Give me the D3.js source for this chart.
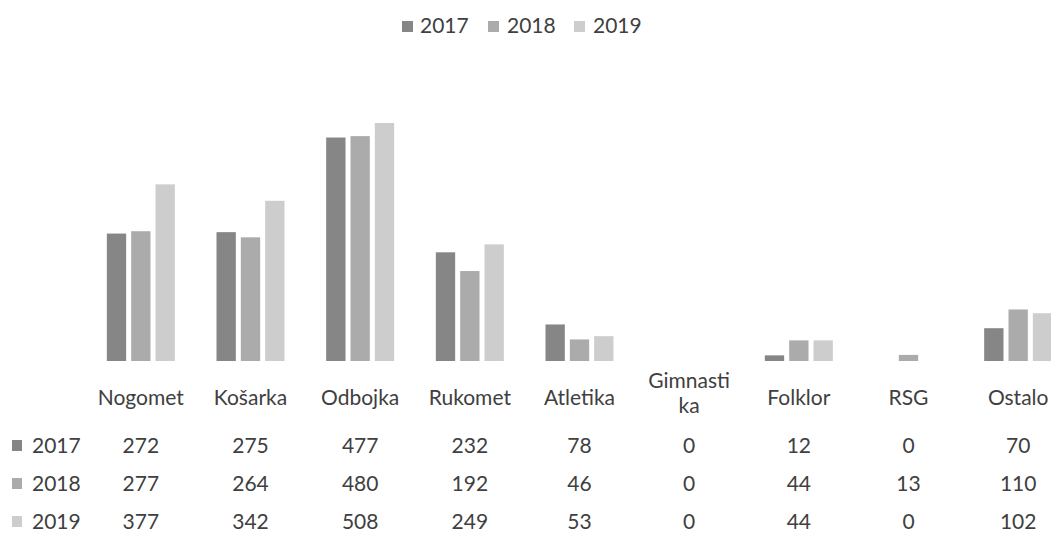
<!DOCTYPE html>
<html>
<head>
<meta charset="utf-8">
<script src="https://cdn.jsdelivr.net/npm/d3@7"></script>
<style>
  html, body { margin: 0; padding: 0; background: #fff; }
  svg { display: block; }
  text { font-family: Lato, "Open Sans", sans-serif; fill: #404040; }
</style>
</head>
<body>
<svg id="chart" width="1051" height="535"></svg>
<script>
const categories = ["Nogomet", "Košarka", "Odbojka", "Rukomet", "Atletika", "Gimnastika", "Folklor", "RSG", "Ostalo"];
const categoryLines = [["Nogomet"], ["Košarka"], ["Odbojka"], ["Rukomet"], ["Atletika"], ["Gimnasti", "ka"], ["Folklor"], ["RSG"], ["Ostalo"]];
const seriesNames = ["2017", "2018", "2019"];
const values2017 = [272, 275, 477, 232, 78, 0, 12, 0, 70];
const values2018 = [277, 264, 480, 192, 46, 0, 44, 13, 110];
const values2019 = [377, 342, 508, 249, 53, 0, 44, 0, 102];
const seriesValues = [values2017, values2018, values2019];
const colors = ["#868686", "#ababab", "#cdcdcd"];

const svg = d3.select("#chart");
const fontSize = 21;

const x = d3.scaleBand().domain(categories).range([86, 1073]).paddingInner(0).paddingOuter(0);
const xInner = d3.scaleBand().domain(seriesNames).range([-34, 34]).paddingInner(0.206).paddingOuter(0);
const y = d3.scaleLinear().domain([0, 600]).range([361, 79.9]);

// bars
const groups = svg.append("g").selectAll("g")
  .data(categories)
  .join("g")
  .attr("transform", d => `translate(${x(d) + x.bandwidth() / 2},0)`);

groups.selectAll("rect")
  .data((c, i) => seriesNames.map((s, j) => ({ s, v: seriesValues[j][i], j })))
  .join("rect")
  .attr("x", d => xInner(d.s))
  .attr("width", xInner.bandwidth())
  .attr("y", d => y(d.v))
  .attr("height", d => y(0) - y(d.v))
  .attr("fill", d => colors[d.j]);

// legend on top
const legendItems = [
  { name: seriesNames[0], sx: 402, tx: 420 },
  { name: seriesNames[1], sx: 488, tx: 507 },
  { name: seriesNames[2], sx: 574, tx: 593 }
];
const legend = svg.append("g");
legendItems.forEach((it, i) => {
  legend.append("rect").attr("x", it.sx).attr("y", 21).attr("width", 11).attr("height", 11).attr("fill", colors[i]);
  legend.append("text").attr("x", it.tx).attr("y", 33).attr("font-size", fontSize).text(it.name);
});

// data table header (category labels)
const header = svg.append("g");
categories.forEach((c, i) => {
  const cx = x(c) + x.bandwidth() / 2;
  const lines = categoryLines[i];
  if (lines.length === 1) {
    header.append("text").attr("x", cx).attr("y", 405).attr("text-anchor", "middle")
      .attr("font-size", fontSize).text(lines[0]);
  } else {
    lines.forEach((l, k) => {
      header.append("text").attr("x", cx).attr("y", 388 + k * 25).attr("text-anchor", "middle")
        .attr("font-size", fontSize).text(l);
    });
  }
});

// data table rows
const rowBaselines = [453, 491, 529];
const table = svg.append("g");
seriesNames.forEach((s, j) => {
  const by = rowBaselines[j];
  table.append("rect").attr("x", 12).attr("y", by - 13).attr("width", 10).attr("height", 11).attr("fill", colors[j]);
  table.append("text").attr("x", 32).attr("y", by).attr("font-size", fontSize).text(s);
  categories.forEach((c, i) => {
    table.append("text").attr("x", x(c) + x.bandwidth() / 2).attr("y", by)
      .attr("text-anchor", "middle").attr("font-size", fontSize).text(seriesValues[j][i]);
  });
});
</script>
</body>
</html>
